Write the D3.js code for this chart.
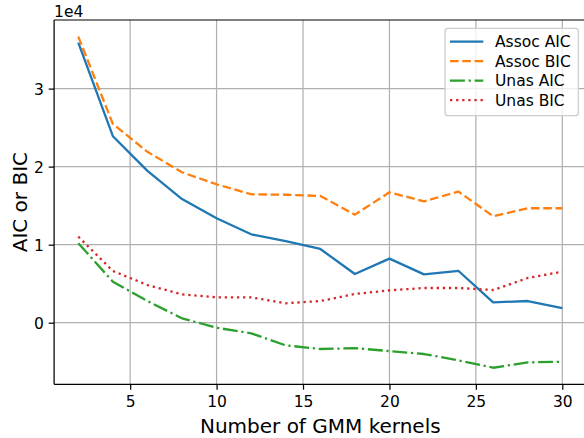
<!DOCTYPE html>
<html>
<head>
<meta charset="utf-8">
<script src="https://cdn.jsdelivr.net/npm/d3@7"></script>
<style>
  html, body { margin: 0; padding: 0; background: #fff; }
  svg { display: block; font-family: "DejaVu Sans", sans-serif; }
</style>
</head>
<body>
<svg id="chart" width="584" height="438"></svg>
<script>
// Number of GMM kernels
const kernels = [2, 4, 6, 8, 10, 12, 14, 16, 18, 20, 22, 24, 26, 28, 30];

// Information criteria per model family
const assocAIC = [35900, 23900, 19450, 15850, 13380, 11330, 10470, 9450, 6240, 8210, 6200, 6630, 2610, 2780, 1880];
const assocBIC = [36670, 25470, 21900, 19280, 17740, 16460, 16400, 16240, 13850, 16710, 15560, 16800, 13640, 14670, 14670];
const unasAIC  = [10180, 5260, 2780, 560, -640, -1360, -2900, -3370, -3260, -3630, -4010, -4820, -5770, -5080, -5000];
const unasBIC  = [11030, 6630, 4830, 3640, 3250, 3250, 2490, 2780, 3680, 4150, 4450, 4450, 4190, 5730, 6540];

const seriesNames = ["Assoc AIC", "Assoc BIC", "Unas AIC", "Unas BIC"];
const xTicks = [5, 10, 15, 20, 25, 30];
const yTicks = [0, 10000, 20000, 30000];

const series = [
  { name: seriesNames[0], values: assocAIC, color: "#1f77b4", dash: null },
  { name: seriesNames[1], values: assocBIC, color: "#ff7f0e", dash: "8.6,3.7" },
  { name: seriesNames[2], values: unasAIC,  color: "#2ca02c", dash: "14.9,3.7,2.3,3.7" },
  { name: seriesNames[3], values: unasBIC,  color: "#d62728", dash: "2.3,3.8" }
];

const svg = d3.select("#chart");
const plotLeft = 54.1, plotRight = 586.5, plotTop = 20, plotBottom = 384.3;

// 5% padding around the data extent on both axes
const xExt = d3.extent(kernels);
const xPad = (xExt[1] - xExt[0]) * 0.05;
const allY = series.flatMap(s => s.values);
const yExt = d3.extent(allY);
const yPad = (yExt[1] - yExt[0]) * 0.05;

const x = d3.scaleLinear().domain([xExt[0] - xPad, xExt[1] + xPad]).range([plotLeft, plotRight]);
const y = d3.scaleLinear().domain([yExt[0] - yPad, yExt[1] + yPad]).range([plotBottom, plotTop]);

const tickFont = 15.5;

// grid
const grid = svg.append("g");
grid.selectAll(".gx").data(xTicks).enter().append("line")
  .attr("x1", d => x(d)).attr("x2", d => x(d))
  .attr("y1", plotTop).attr("y2", plotBottom)
  .attr("stroke", "#b0b0b0").attr("stroke-width", 1.24);
grid.selectAll(".gy").data(yTicks).enter().append("line")
  .attr("x1", plotLeft).attr("x2", plotRight)
  .attr("y1", d => y(d)).attr("y2", d => y(d))
  .attr("stroke", "#b0b0b0").attr("stroke-width", 1.24);

// lines
const line = d3.line().x((d, i) => x(kernels[i])).y(d => y(d));
series.forEach(s => {
  svg.append("path")
    .datum(s.values)
    .attr("d", line)
    .attr("fill", "none")
    .attr("stroke", s.color)
    .attr("stroke-width", 2.3)
    .attr("stroke-linejoin", "round")
    .attr("stroke-dasharray", s.dash);
});

// axes
const xAxis = d3.axisBottom(x).tickValues(xTicks).tickSize(5.4).tickPadding(5.4).tickFormat(d3.format("d"));
const gx = svg.append("g").attr("transform", `translate(0,${plotBottom})`).call(xAxis);
const yAxis = d3.axisLeft(y).tickValues(yTicks).tickSize(5.4).tickPadding(5.4).tickFormat(d => d / 10000);
const gy = svg.append("g").attr("transform", `translate(${plotLeft},0)`).call(yAxis);

[gx, gy].forEach(g => {
  g.select(".domain").remove();
  g.selectAll(".tick line").attr("stroke", "#000").attr("stroke-width", 1.24);
  g.selectAll(".tick text").attr("fill", "#000").attr("font-size", tickFont)
    .attr("font-family", "DejaVu Sans");
});
gx.selectAll(".tick text").attr("dy", null).attr("y", 23);
gy.selectAll(".tick text").attr("dy", "0.36em").attr("x", -10.2);

// spines
const spine = (x1, y1, x2, y2) => svg.append("line")
  .attr("x1", x1).attr("y1", y1).attr("x2", x2).attr("y2", y2)
  .attr("stroke", "#000").attr("stroke-width", 1.24);
spine(plotLeft, plotTop, plotLeft, plotBottom);
spine(plotLeft, plotBottom, plotRight, plotBottom);
spine(plotLeft, plotTop, plotRight, plotTop);
spine(plotRight, plotTop, plotRight, plotBottom);

// offset text
svg.append("text").attr("x", plotLeft).attr("y", 16.5).attr("font-size", tickFont).text("1e4");

// axis labels
svg.append("text")
  .attr("x", (plotLeft + plotRight) / 2).attr("y", 432.5)
  .attr("text-anchor", "middle").attr("font-size", 20)
  .text("Number of GMM kernels");
svg.append("text")
  .attr("transform", `translate(26.5,${(plotTop + plotBottom) / 2}) rotate(-90)`)
  .attr("text-anchor", "middle").attr("font-size", 20)
  .text("AIC or BIC");

// legend
const lg = svg.append("g");
lg.append("rect")
  .attr("x", 445).attr("y", 28.3).attr("width", 133.3).attr("height", 87.4)
  .attr("rx", 3).attr("ry", 3)
  .attr("fill", "#fff").attr("fill-opacity", 0.8)
  .attr("stroke", "#cccccc").attr("stroke-width", 1.24);
series.forEach((s, i) => {
  const cy = 41.7 + i * 19.45;
  lg.append("line")
    .attr("x1", 450).attr("x2", 483.3).attr("y1", cy).attr("y2", cy)
    .attr("stroke", s.color).attr("stroke-width", 2.3)
    .attr("stroke-dasharray", s.dash);
  lg.append("text")
    .attr("x", 495).attr("y", cy + 5.6)
    .attr("font-size", tickFont)
    .text(s.name);
});
</script>
</body>
</html>
